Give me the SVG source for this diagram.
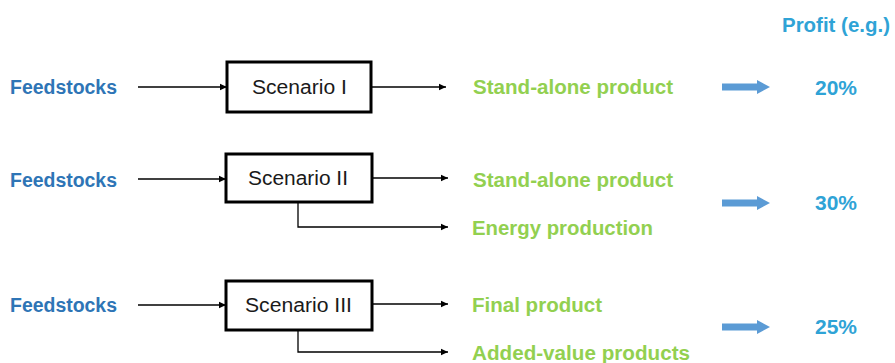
<svg xmlns="http://www.w3.org/2000/svg" width="895" height="363" viewBox="0 0 895 363">
<style>
.feed{font-family:"Liberation Sans",Arial,sans-serif;font-weight:bold;font-size:19.5px;fill:#2E75B6}
.out{font-family:"Liberation Sans",Arial,sans-serif;font-weight:bold;font-size:19.5px;fill:#92D050}
.pct{font-family:"Liberation Sans",Arial,sans-serif;font-weight:bold;font-size:19.5px;fill:#2FA3D6}
.lbl{font-family:"Liberation Sans",Arial,sans-serif;font-size:19.5px;fill:#1a1a1a}
.box{fill:#fff;stroke:#000;stroke-width:3}
.line{fill:none;stroke:#000;stroke-width:1.3;marker-end:url(#ah)}
.blk{fill:#5B9BD5}
</style>
<defs>
<marker id="ah" markerWidth="8" markerHeight="8" refX="7" refY="4" orient="auto" markerUnits="userSpaceOnUse">
<path d="M0,0.8 L7,4 L0,7.2 Z" fill="#000"/>
</marker>
</defs>
<text class="pct" x="782" y="32" textLength="108" lengthAdjust="spacingAndGlyphs">Profit (e.g.)</text>
<g id="connectors">
<path class="line" d="M138,87 H227"/>
<path class="line" d="M371,87 H446"/>
<path class="line" d="M138,179 H226"/>
<path class="line" d="M372,178 H448"/>
<path class="line" d="M298,202 V227 H448"/>
<path class="line" d="M138,305 H226"/>
<path class="line" d="M372,304 H448"/>
<path class="line" d="M298,330 V352 H448"/>
</g>
<g id="row1">
<text class="feed" x="10" y="94" textLength="107" lengthAdjust="spacingAndGlyphs">Feedstocks</text>
<g id="scenario1"><rect class="box" x="227" y="62" width="144" height="50"/><text class="lbl" x="252" y="94" textLength="95" lengthAdjust="spacingAndGlyphs">Scenario I</text></g>
<text class="out" x="473" y="94" textLength="200" lengthAdjust="spacingAndGlyphs">Stand-alone product</text>
<path class="blk" d="M722,83.5 H757 V80 L770,87 L757,94 V90.5 H722 Z"/>
<text class="pct" x="815" y="95" textLength="42" lengthAdjust="spacingAndGlyphs">20%</text>
</g>
<g id="row2">
<text class="feed" x="10" y="187" textLength="107" lengthAdjust="spacingAndGlyphs">Feedstocks</text>
<g id="scenario2"><rect class="box" x="226" y="154" width="146" height="48"/><text class="lbl" x="248" y="185" textLength="100" lengthAdjust="spacingAndGlyphs">Scenario II</text></g>
<text class="out" x="473" y="187" textLength="200" lengthAdjust="spacingAndGlyphs">Stand-alone product</text>
<text class="out" x="472" y="235" textLength="181" lengthAdjust="spacingAndGlyphs">Energy production</text>
<path class="blk" d="M722,199.5 H757 V196 L770,203 L757,210 V206.5 H722 Z"/>
<text class="pct" x="815" y="210" textLength="42" lengthAdjust="spacingAndGlyphs">30%</text>
</g>
<g id="row3">
<text class="feed" x="10" y="312" textLength="107" lengthAdjust="spacingAndGlyphs">Feedstocks</text>
<g id="scenario3"><rect class="box" x="226" y="281" width="146" height="49"/><text class="lbl" x="245" y="312" textLength="107" lengthAdjust="spacingAndGlyphs">Scenario III</text></g>
<text class="out" x="472" y="312" textLength="130" lengthAdjust="spacingAndGlyphs">Final product</text>
<text class="out" x="472" y="360" textLength="218" lengthAdjust="spacingAndGlyphs">Added-value products</text>
<path class="blk" d="M722,323.5 H757 V320 L770,327 L757,334 V330.5 H722 Z"/>
<text class="pct" x="815" y="334" textLength="42" lengthAdjust="spacingAndGlyphs">25%</text>
</g>
</svg>
